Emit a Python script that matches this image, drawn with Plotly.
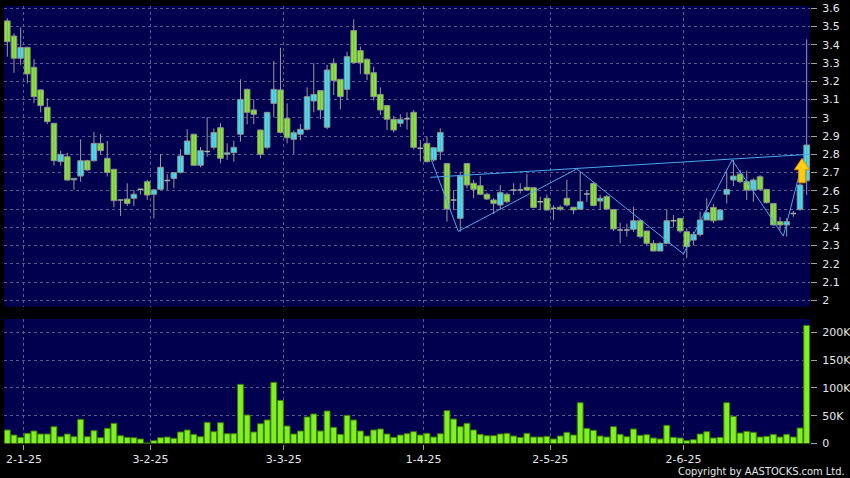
import plotly.graph_objects as go

# ---------------- data ----------------
opens = [3.531, 3.448, 3.326, 3.386, 3.277, 3.153, 3.058, 2.970, 2.760, 2.787,
         2.660, 2.681, 2.765, 2.765, 2.860, 2.778, 2.718, 2.550, 2.555, 2.559,
         2.608, 2.650, 2.581, 2.608, 2.656, 2.668, 2.700, 2.800, 2.910, 2.740,
         2.815, 2.838, 2.946, 2.800, 2.809, 2.910, 3.156, 3.043, 2.933, 2.838,
         3.079, 3.153, 2.997, 2.882, 2.910, 2.937, 3.092, 3.149, 2.948, 3.299,
         3.211, 3.156, 3.478, 3.368, 3.321, 3.247, 3.128, 3.067, 2.992, 2.970,
         2.995, 3.030, 2.833, 2.860, 2.769, 2.814, 2.750, 2.550, 2.449, 2.750,
         2.641, 2.628, 2.581, 2.550, 2.522, 2.581, 2.604, 2.604, 2.619, 2.617,
         2.540, 2.559, 2.504, 2.510, 2.559, 2.510, 2.499, 2.582, 2.641, 2.544,
         2.568, 2.498, 2.385, 2.385, 2.389, 2.436, 2.380, 2.312, 2.270, 2.312,
         2.436, 2.449, 2.376, 2.330, 2.361, 2.440, 2.509, 2.440, 2.581, 2.659,
         2.692, 2.650, 2.604, 2.677, 2.608, 2.531, 2.431, 2.413, 2.476, 2.498,
         2.655]
highs = [3.545, 3.463, 3.496, 3.390, 3.321, 3.155, 3.107, 2.972, 2.820, 2.809,
         2.668, 2.882, 2.770, 2.922, 2.911, 2.873, 2.720, 2.552, 2.641, 2.605,
         2.610, 2.660, 2.610, 2.802, 2.692, 2.700, 2.829, 2.937, 2.910, 2.840,
         3.003, 2.942, 2.970, 2.860, 2.875, 3.211, 3.160, 3.101, 2.936, 3.030,
         3.311, 3.384, 3.079, 2.930, 2.966, 3.167, 3.299, 3.150, 3.290, 3.326,
         3.211, 3.362, 3.540, 3.390, 3.326, 3.281, 3.167, 3.070, 3.010, 3.020,
         3.030, 3.043, 2.878, 2.897, 2.840, 2.942, 2.750, 2.604, 2.705, 2.750,
         2.660, 2.681, 2.590, 2.560, 2.632, 2.590, 2.641, 2.641, 2.692, 2.620,
         2.568, 2.580, 2.520, 2.520, 2.659, 2.510, 2.705, 2.604, 2.650, 2.577,
         2.577, 2.500, 2.425, 2.420, 2.513, 2.440, 2.380, 2.330, 2.320, 2.498,
         2.467, 2.450, 2.394, 2.376, 2.486, 2.559, 2.527, 2.500, 2.705, 2.769,
         2.714, 2.710, 2.668, 2.686, 2.610, 2.531, 2.458, 2.450, 2.490, 2.641,
         3.430]
lows = [3.335, 3.247, 3.290, 3.189, 3.079, 3.030, 2.966, 2.738, 2.738, 2.655,
        2.605, 2.650, 2.710, 2.760, 2.796, 2.678, 2.510, 2.462, 2.517, 2.517,
        2.580, 2.550, 2.449, 2.605, 2.605, 2.614, 2.695, 2.796, 2.736, 2.729,
        2.787, 2.827, 2.750, 2.770, 2.760, 2.869, 2.964, 2.966, 2.778, 2.827,
        3.003, 2.915, 2.860, 2.802, 2.878, 2.930, 3.030, 2.992, 2.937, 3.125,
        3.046, 3.101, 3.300, 3.240, 3.207, 3.094, 3.016, 2.933, 2.919, 2.950,
        2.935, 2.827, 2.760, 2.755, 2.760, 2.769, 2.431, 2.495, 2.376, 2.614,
        2.559, 2.577, 2.550, 2.473, 2.495, 2.531, 2.577, 2.585, 2.600, 2.505,
        2.495, 2.490, 2.440, 2.490, 2.513, 2.473, 2.495, 2.540, 2.515, 2.495,
        2.495, 2.380, 2.312, 2.349, 2.376, 2.340, 2.303, 2.270, 2.270, 2.310,
        2.400, 2.370, 2.230, 2.300, 2.349, 2.440, 2.422, 2.440, 2.531, 2.626,
        2.641, 2.550, 2.540, 2.600, 2.530, 2.410, 2.385, 2.349, 2.458, 2.490,
        2.577]
closes = [3.417, 3.326, 3.386, 3.240, 3.116, 3.067, 2.979, 2.765, 2.800, 2.659,
          2.668, 2.765, 2.714, 2.860, 2.820, 2.700, 2.546, 2.550, 2.531, 2.581,
          2.608, 2.577, 2.605, 2.729, 2.656, 2.700, 2.791, 2.873, 2.740, 2.820,
          2.815, 2.920, 2.778, 2.808, 2.838, 3.101, 3.030, 3.019, 2.800, 3.030,
          3.156, 2.920, 2.891, 2.918, 2.937, 3.116, 3.128, 3.043, 3.262, 3.204,
          3.116, 3.335, 3.302, 3.302, 3.240, 3.116, 3.043, 2.992, 2.933, 2.992,
          2.995, 2.838, 2.833, 2.760, 2.836, 2.920, 2.500, 2.550, 2.681, 2.632,
          2.608, 2.581, 2.555, 2.531, 2.590, 2.540, 2.604, 2.604, 2.604, 2.509,
          2.540, 2.495, 2.504, 2.499, 2.522, 2.495, 2.540, 2.582, 2.519, 2.559,
          2.500, 2.391, 2.385, 2.385, 2.436, 2.349, 2.312, 2.270, 2.312, 2.436,
          2.436, 2.380, 2.294, 2.361, 2.440, 2.480, 2.436, 2.495, 2.608, 2.681,
          2.650, 2.604, 2.659, 2.608, 2.535, 2.413, 2.413, 2.431, 2.476, 2.632,
          2.851]
volumes = [24300, 15300, 11100, 18300, 22500, 17100, 17100, 30300, 12300, 17100,
           12300, 43500, 12300, 23100, 10500, 27300, 36300, 14100, 11100, 10500,
           8100, 1000, 5100, 10500, 11700, 9300, 20700, 24300, 16500, 12300,
           38100, 21300, 37500, 17700, 17700, 106400, 51300, 20700, 35700, 42300,
           110000, 77600, 31500, 17100, 22500, 47700, 53100, 22500, 58500, 29100,
           16500, 50700, 42300, 22500, 13500, 24300, 26100, 17100, 11100, 15300,
           17700, 21300, 15300, 18300, 11700, 17700, 59100, 44100, 30300, 36300,
           24300, 16500, 14100, 14100, 17100, 18300, 13500, 11100, 18300, 11700,
           11700, 12900, 8100, 13500, 20100, 15300, 73400, 27300, 23700, 13500,
           11700, 30300, 16500, 12300, 26100, 14700, 15900, 9900, 8100, 32700,
           11100, 9900, 5100, 6900, 17100, 21300, 9900, 11100, 73400, 48900,
           18900, 21900, 20100, 11700, 12900, 16500, 11700, 16500, 11700, 27900,
           212500]

tick_idx = [2, 21, 41, 62, 81, 101]
tick_labels = ["2-1-25", "3-2-25", "3-3-25", "1-4-25", "2-5-25", "2-6-25"]

price_ticks = [2.0, 2.1, 2.2, 2.3, 2.4, 2.5, 2.6, 2.7, 2.8, 2.9,
               3.0, 3.1, 3.2, 3.3, 3.4, 3.5, 3.6]
price_tick_labels = ["2", "2.1", "2.2", "2.3", "2.4", "2.5", "2.6", "2.7", "2.8",
                     "2.9", "3", "3.1", "3.2", "3.3", "3.4", "3.5", "3.6"]
vol_ticks = [0, 50000, 100000, 150000, 200000]
vol_tick_labels = ["0", "50K", "100K", "150K", "200K"]

trend_x = [63.5, 120.5]
trend_y = [2.674, 2.800]
zigzag_x = [63.6, 67.7, 85.5, 101.5, 108.8, 116.5, 119.5]
zigzag_y = [2.775, 2.378, 2.720, 2.254, 2.769, 2.352, 2.775]

arrow_x = 119.3
arrow_tip = 2.778

# ---------------- styling ----------------
NAVY = "#00004f"
GREEN = "#80f020"
CYAN = "#33e6ff"
WICK = "#9a9a9a"
EDGE = "#8a8f88"
GRID = "#5a5a92"
TXT = "#e6e6e6"
ZZ = "#4aa8e8"
FONT = "DejaVu Sans"
BODY_W = 0.84

n = len(opens)
xs = list(range(n))
grid_pos = [t + 0.5 for t in tick_idx]

fig = go.Figure()

# wicks (high-low) as one segmented line
wx, wy = [], []
for i in xs:
    wx += [i, i, None]
    wy += [lows[i], highs[i], None]
fig.add_trace(go.Scatter(x=wx, y=wy, mode="lines", line=dict(color=WICK, width=1),
                         xaxis="x", yaxis="y", hoverinfo="skip"))

# bodies
up = [i for i in xs if closes[i] > opens[i]]
dn = [i for i in xs if closes[i] < opens[i]]
flat = [i for i in xs if closes[i] == opens[i]]
for idx, col in ((up, CYAN), (dn, GREEN)):
    fig.add_trace(go.Bar(
        x=idx,
        y=[abs(closes[i] - opens[i]) for i in idx],
        base=[min(closes[i], opens[i]) for i in idx],
        width=BODY_W,
        marker=dict(color=col, line=dict(color=EDGE, width=1)),
        xaxis="x", yaxis="y", hoverinfo="skip"))

# doji (open == close) as short horizontal strokes
dx, dy = [], []
for i in flat:
    dx += [i - BODY_W / 2, i + BODY_W / 2, None]
    dy += [opens[i], opens[i], None]
fig.add_trace(go.Scatter(x=dx, y=dy, mode="lines", line=dict(color="#a8b0a8", width=1.5),
                         xaxis="x", yaxis="y", hoverinfo="skip"))

fig.add_trace(go.Scatter(x=trend_x, y=trend_y, mode="lines",
                         line=dict(color=ZZ, width=1), xaxis="x", yaxis="y",
                         hoverinfo="skip"))
fig.add_trace(go.Scatter(x=zigzag_x, y=zigzag_y, mode="lines",
                         line=dict(color=ZZ, width=1), xaxis="x", yaxis="y",
                         hoverinfo="skip"))

fig.add_trace(go.Bar(x=xs, y=volumes, width=0.88,
                     marker=dict(color=GREEN, line=dict(color="#3c7a00", width=1)),
                     xaxis="x2", yaxis="y2", hoverinfo="skip"))

# arrow marker (up arrow) built around its tip
hw, sw, hh, sh = 1.15, 0.5, 0.062, 0.072
ax, at = arrow_x, arrow_tip
path = (f"M {ax},{at} L {ax+hw},{at-hh} L {ax+sw},{at-hh} L {ax+sw},{at-hh-sh} "
        f"L {ax-sw},{at-hh-sh} L {ax-sw},{at-hh} L {ax-hw},{at-hh} Z")
fig.add_shape(type="path", path=path, xref="x", yref="y",
              fillcolor="#ffcc14", line=dict(color="#d09400", width=1), layer="above")

W, H = 850, 478
xdom = [4 / W, 810 / W]
xrange_ = [-0.5, n - 0.5]

axis_common = dict(showline=False, zeroline=False, automargin=False)

fig.update_layout(
    width=W, height=H,
    margin=dict(l=0, r=0, t=0, b=0, pad=0),
    paper_bgcolor="#000000",
    plot_bgcolor=NAVY,
    showlegend=False,
    template="none",
    barmode="overlay",
    font=dict(family=FONT, size=11, color=TXT),
    xaxis=dict(domain=xdom, range=xrange_, anchor="y",
               tickvals=grid_pos, ticktext=["" for _ in tick_labels],
               showgrid=True, gridcolor=GRID, griddash="3px,3px", gridwidth=1,
               ticks="", showticklabels=False, **axis_common),
    yaxis=dict(domain=[1 - 306.7 / H, 1 - 6 / H], range=[1.965, 3.6126],
               anchor="x", side="right",
               tickvals=price_ticks, ticktext=price_tick_labels,
               showgrid=True, gridcolor=GRID, griddash="3px,3px", gridwidth=1,
               ticks="outside", ticklen=6, tickcolor="#a0a0a0", tickwidth=1,
               ticklabelstandoff=3,
               tickfont=dict(family=FONT, size=11, color=TXT), **axis_common),
    xaxis2=dict(domain=xdom, range=xrange_, anchor="y2",
                tickvals=grid_pos, ticktext=tick_labels,
                showgrid=True, gridcolor=GRID, griddash="3px,3px", gridwidth=1,
                ticks="outside", ticklen=5, tickcolor="#a0a0a0", tickwidth=1,
                ticklabelstandoff=0,
                tickfont=dict(family=FONT, size=11, color=TXT), **axis_common),
    yaxis2=dict(domain=[1 - 443.5 / H, 1 - 319 / H], range=[0, 224000],
                anchor="x2", side="right",
                tickvals=vol_ticks, ticktext=vol_tick_labels,
                showgrid=True, gridcolor=GRID, griddash="3px,3px", gridwidth=1,
                ticks="outside", ticklen=6, tickcolor="#a0a0a0", tickwidth=1,
                ticklabelstandoff=3,
                tickfont=dict(family=FONT, size=11, color=TXT), **axis_common),
    annotations=[dict(text="Copyright by AASTOCKS.com Ltd.", xref="paper", yref="paper",
                      x=847 / W, y=1 - 471.5 / H, xanchor="right", yanchor="middle",
                      showarrow=False,
                      font=dict(family="DejaVu Sans Condensed, DejaVu Sans", size=11,
                                color=TXT))],
)

fig.write_html("out.html",
               config={"displayModeBar": False},
               post_script="document.body.style.margin='0px';"
                           "document.body.style.background='#000';")
